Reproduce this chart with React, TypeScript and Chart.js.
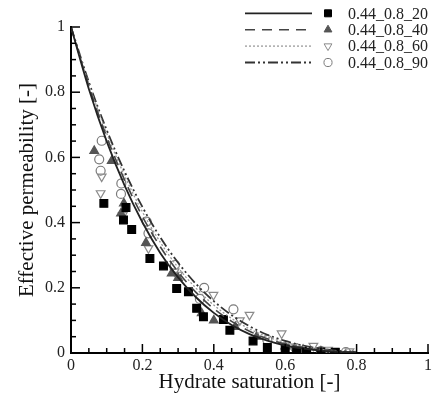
import React, { useEffect, useRef } from "react";
import { Chart, registerables } from "chart.js";

Chart.register(...registerables);

// Curve sample points (hydrate saturation)
const S_GRID = [0, 0.05, 0.1, 0.15, 0.2, 0.25, 0.3, 0.35, 0.4, 0.45, 0.5, 0.55, 0.6, 0.65, 0.7, 0.75, 0.8];
const K_20 = [1, 0.81, 0.649, 0.514, 0.401, 0.307, 0.232, 0.171, 0.123, 0.086, 0.058, 0.038, 0.023, 0.0135, 0.0072, 0.0034, 0.0014];
const K_40 = [1, 0.819, 0.663, 0.531, 0.419, 0.326, 0.249, 0.186, 0.136, 0.097, 0.067, 0.044, 0.028, 0.0167, 0.0091, 0.0045, 0.0019];
const K_60 = [1, 0.825, 0.674, 0.544, 0.433, 0.34, 0.262, 0.199, 0.147, 0.106, 0.074, 0.05, 0.032, 0.0195, 0.0109, 0.0055, 0.0024];
const K_90 = [1, 0.831, 0.684, 0.557, 0.448, 0.355, 0.277, 0.212, 0.159, 0.116, 0.082, 0.056, 0.037, 0.0228, 0.0131, 0.0068, 0.003];

// Measured points
const P20_X = [0.092, 0.147, 0.154, 0.17, 0.221, 0.259, 0.296, 0.329, 0.352, 0.371, 0.427, 0.445, 0.51, 0.55, 0.6, 0.632, 0.66, 0.7, 0.74];
const P20_Y = [0.459, 0.408, 0.446, 0.379, 0.29, 0.267, 0.198, 0.188, 0.137, 0.111, 0.103, 0.07, 0.037, 0.017, 0.012, 0.007, 0.005, 0.003, 0.002];
const P40_X = [0.065, 0.114, 0.148, 0.14, 0.21, 0.282, 0.3, 0.366, 0.4, 0.46, 0.52, 0.6, 0.65, 0.7];
const P40_Y = [0.62, 0.589, 0.459, 0.428, 0.338, 0.244, 0.23, 0.122, 0.1, 0.08, 0.05, 0.02, 0.01, 0.005];
const P60_X = [0.086, 0.083, 0.145, 0.217, 0.29, 0.3, 0.399, 0.473, 0.5, 0.59, 0.62, 0.679, 0.72, 0.78];
const P60_Y = [0.541, 0.49, 0.423, 0.321, 0.25, 0.24, 0.178, 0.1, 0.117, 0.06, 0.02, 0.022, 0.01, 0.005];
const P90_X = [0.086, 0.079, 0.083, 0.141, 0.14, 0.212, 0.217, 0.291, 0.361, 0.373, 0.455, 0.55, 0.63, 0.7, 0.77];
const P90_Y = [0.651, 0.594, 0.559, 0.52, 0.488, 0.403, 0.367, 0.27, 0.166, 0.2, 0.134, 0.04, 0.015, 0.006, 0.003];

const LABELS = ["0.44_0.8_20", "0.44_0.8_40", "0.44_0.8_60", "0.44_0.8_90"];
const X_TITLE = "Hydrate saturation [-]";
const Y_TITLE = "Effective permeability [-]";

const FONT = "'Liberation Serif', 'Times New Roman', serif";

const LINE_COLORS = ["#222", "#444", "#9a9a9a", "#333"];
const LINE_DASHES: number[][] = [[], [10, 7], [2, 2], [10, 3, 2, 3, 2, 3]];
const LINE_WIDTHS = [1.8, 1.6, 1.3, 1.8];

const MARK_STYLES = ["rect", "triangle", "triangle", "circle"];
const MARK_ROT = [0, 0, 180, 0];
const MARK_FILL = ["#000", "#555", "rgba(255,255,255,0)", "rgba(255,255,255,0)"];
const MARK_STROKE = ["#000", "#555", "#8a8a8a", "#7a7a7a"];
const MARK_R = [5.5, 5, 5, 4.5];

const zip = (xs: number[], ys: number[]) => xs.map((x, i) => ({ x, y: ys[i] }));
const fmt = (v: any) => String(Number(Number(v).toFixed(1)));

const tickPlugin = {
  id: "innerTicks",
  afterDraw(chart: any) {
    const ctx = chart.ctx;
    const xs = chart.scales.x;
    const ys = chart.scales.y;
    const x0 = xs.getPixelForValue(0);
    const y0 = ys.getPixelForValue(0);
    ctx.save();
    ctx.strokeStyle = "#000";
    ctx.lineWidth = 1.5;
    for (let i = 0; i <= 20; i++) {
      const v = i * 0.05;
      const major = i % 4 === 0;
      const len = major ? 9 : 5;
      const py = ys.getPixelForValue(v);
      ctx.beginPath();
      ctx.moveTo(x0, py);
      ctx.lineTo(x0 + len, py);
      ctx.stroke();
      const px = xs.getPixelForValue(v);
      ctx.beginPath();
      ctx.moveTo(px, y0);
      ctx.lineTo(px, y0 - len);
      ctx.stroke();
    }
    ctx.restore();

    // legend
    ctx.save();
    for (let i = 0; i < 4; i++) {
      const y = 13.3 + i * 16.4;
      ctx.beginPath();
      ctx.setLineDash(LINE_DASHES[i]);
      ctx.strokeStyle = LINE_COLORS[i];
      ctx.lineWidth = LINE_WIDTHS[i];
      ctx.moveTo(245, y);
      ctx.lineTo(312, y);
      ctx.stroke();
      ctx.setLineDash([]);
      const r = MARK_R[i] * 0.9;
      ctx.fillStyle = MARK_FILL[i];
      ctx.strokeStyle = MARK_STROKE[i];
      ctx.lineWidth = 1;
      ctx.beginPath();
      const mx = 328;
      if (i === 0) {
        ctx.rect(mx - 3.5, y - 3.5, 7, 7);
      } else if (i === 1) {
        ctx.moveTo(mx, y - r);
        ctx.lineTo(mx + r * 0.87, y + r * 0.5);
        ctx.lineTo(mx - r * 0.87, y + r * 0.5);
        ctx.closePath();
      } else if (i === 2) {
        ctx.moveTo(mx, y + r);
        ctx.lineTo(mx + r * 0.87, y - r * 0.5);
        ctx.lineTo(mx - r * 0.87, y - r * 0.5);
        ctx.closePath();
      } else {
        ctx.arc(mx, y, r, 0, Math.PI * 2);
      }
      ctx.fill();
      ctx.stroke();
      ctx.fillStyle = "#222";
      ctx.font = `16px ${FONT}`;
      ctx.textAlign = "left";
      ctx.textBaseline = "middle";
      ctx.fillText(LABELS[i], 348, y + 1);
    }
    ctx.restore();
  },
};

export default function App() {
  const ref = useRef<HTMLCanvasElement>(null);
  useEffect(() => {
    if (!ref.current) return;
    const curves = [K_20, K_40, K_60, K_90];
    const pts = [zip(P20_X, P20_Y), zip(P40_X, P40_Y), zip(P60_X, P60_Y), zip(P90_X, P90_Y)];
    const datasets: any[] = [];
    for (let i = 0; i < 4; i++) {
      datasets.push({
        label: LABELS[i] + " model",
        data: zip(S_GRID, curves[i]),
        borderColor: LINE_COLORS[i],
        borderDash: LINE_DASHES[i],
        borderWidth: LINE_WIDTHS[i],
        pointRadius: 0,
        cubicInterpolationMode: "monotone",
        fill: false,
      });
    }
    for (let i = 0; i < 4; i++) {
      datasets.push({
        label: LABELS[i],
        data: pts[i],
        showLine: false,
        pointStyle: MARK_STYLES[i],
        rotation: MARK_ROT[i],
        pointRadius: MARK_R[i],
        pointBackgroundColor: MARK_FILL[i],
        pointBorderColor: MARK_STROKE[i],
        pointBorderWidth: 1.2,
      });
    }
    const chart = new Chart(ref.current, {
      type: "line",
      data: { datasets },
      plugins: [tickPlugin],
      options: {
        responsive: false,
        animation: false,
        layout: { padding: { top: 27, right: 8, left: 0, bottom: 0 } },
        plugins: { legend: { display: false }, tooltip: { enabled: false } },
        scales: {
          x: {
            type: "linear",
            min: 0,
            max: 1,
            grid: { display: false, drawTicks: false },
            border: { display: true, color: "#000", width: 2 },
            ticks: {
              stepSize: 0.2,
              padding: 3,
              color: "#222",
              font: { family: FONT, size: 16 },
              maxRotation: 0,
              callback: fmt,
            },
            title: {
              display: true,
              text: X_TITLE,
              color: "#111",
              font: { family: FONT, size: 21 },
              padding: { top: 0, bottom: 1 },
            },
            afterFit: (s: any) => {
              s.height = 43;
            },
          },
          y: {
            type: "linear",
            min: 0,
            max: 1,
            grid: { display: false, drawTicks: false },
            border: { display: true, color: "#000", width: 2 },
            ticks: {
              stepSize: 0.2,
              padding: 6,
              color: "#222",
              font: { family: FONT, size: 16 },
              callback: fmt,
            },
            title: {
              display: true,
              text: Y_TITLE,
              color: "#111",
              font: { family: FONT, size: 21 },
              padding: { top: 15, bottom: 0 },
            },
            afterFit: (s: any) => {
              s.width = 71;
            },
          },
        },
      },
    });
    return () => chart.destroy();
  }, []);
  return (
    <div style={{ position: "absolute", left: 0, top: 0, width: 436, height: 396, background: "#fff" }}>
      <canvas ref={ref} width={436} height={396} style={{ width: 436, height: 396 }} />
    </div>
  );
}
